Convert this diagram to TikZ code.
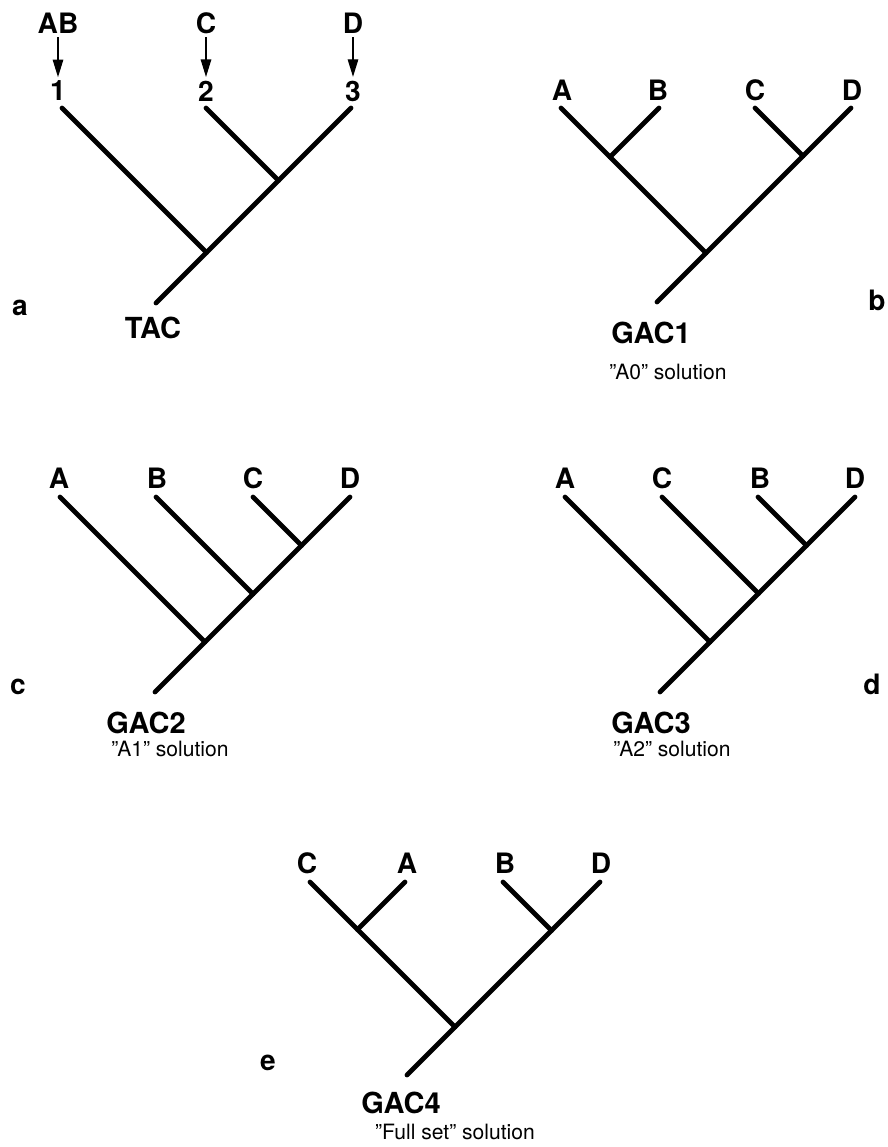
\documentclass[tikz,border=0pt]{standalone}
\usepackage{fontspec}
\setmainfont{TeX Gyre Heros}
\usetikzlibrary{arrows.meta}

\begin{document}
\begin{tikzpicture}[
        x=0.02cm, y=-0.02cm,
        branch/.style={line width=2.7pt, line cap=round},
        feed/.style={-{Triangle[length=10pt,width=6pt]}, line width=0.7pt, shorten <=2pt, shorten >=2pt},
        taxon/.style={inner sep=0pt, font=\fontsize{16}{19}\selectfont\bfseries},
        treename/.style={inner sep=0pt, font=\fontsize{16.5}{19}\selectfont\bfseries},
        soln/.style={inner sep=0pt, font=\fontsize{12}{14}\selectfont},
        panel/.style={inner sep=0pt, font=\fontsize{16}{19}\selectfont\bfseries}
    ]
        \useasboundingbox (0,0) rectangle (887,1147);

        % Panel a: TAC
        \node[taxon] (aAB) at (58,23) {AB};
        \node[taxon] (aC) at (206,23) {C};
        \node[taxon] (aD) at (353,23) {D};
        \node[taxon] (a1) at (58,91) {1};
        \node[taxon] (a2) at (206,91) {2};
        \node[taxon] (a3) at (353,91) {3};
        \coordinate (aL1) at (62,108);
        \coordinate (aL2) at (206,108);
        \coordinate (aL3) at (351,108);
        \coordinate (aJ23) at (278.5,180.5);
        \coordinate (aJ) at (206.5,252.5);
        \coordinate (aR) at (156,303);
        \node[treename] (TAC) at (153,328) {TAC};
        \node[panel] (pa) at (20,308) {a};

        % Panel b: GAC1
        \node[taxon] (bA) at (562,90) {A};
        \node[taxon] (bB) at (658,90) {B};
        \node[taxon] (bC) at (755,90) {C};
        \node[taxon] (bD) at (852,90) {D};
        \coordinate (bLA) at (561,108);
        \coordinate (bLB) at (659,108);
        \coordinate (bLC) at (755,108);
        \coordinate (bLD) at (851,108);
        \coordinate (bJAB) at (610,157);
        \coordinate (bJCD) at (803,156);
        \coordinate (bJ) at (706,253);
        \coordinate (bR) at (657,302);
        \node[treename] (GAC1) at (651,333) {GAC1};
        \node[soln] (sol1) at (668,372) {''A0'' solution};
        \node[panel] (pb) at (877,300) {b};

        % Panel c: GAC2
        \node[taxon] (cA) at (59,478) {A};
        \node[taxon] (cB) at (157,478) {B};
        \node[taxon] (cC) at (253,478) {C};
        \node[taxon] (cD) at (350,478) {D};
        \coordinate (cLA) at (60,497);
        \coordinate (cLB) at (156,497);
        \coordinate (cLC) at (253,497);
        \coordinate (cLD) at (350,497);
        \coordinate (cJCD) at (301.5,545.5);
        \coordinate (cJB) at (253,594);
        \coordinate (cJA) at (205,642);
        \coordinate (cR) at (155,692);
        \node[treename] (GAC2) at (146,723) {GAC2};
        \node[soln] (sol2) at (170,749) {''A1'' solution};
        \node[panel] (pc) at (18,687) {c};

        % Panel d: GAC3
        \node[taxon] (dA) at (565,478) {A};
        \node[taxon] (dC) at (662,478) {C};
        \node[taxon] (dB) at (760,478) {B};
        \node[taxon] (dD) at (855,478) {D};
        \coordinate (dLA) at (565,497);
        \coordinate (dLC) at (662,497);
        \coordinate (dLB) at (758,497);
        \coordinate (dLD) at (855,497);
        \coordinate (dJBD) at (806.5,545.5);
        \coordinate (dJC) at (758.5,593.5);
        \coordinate (dJA) at (710,642);
        \coordinate (dR) at (660,692);
        \node[treename] (GAC3) at (651,723) {GAC3};
        \node[soln] (sol3) at (672,749) {''A2'' solution};
        \node[panel] (pd) at (872,684) {d};

        % Panel e: GAC4
        \node[taxon] (eC) at (307,863) {C};
        \node[taxon] (eA) at (407,863) {A};
        \node[taxon] (eB) at (505,863) {B};
        \node[taxon] (eD) at (601,863) {D};
        \coordinate (eLC) at (310,882);
        \coordinate (eLA) at (405,882);
        \coordinate (eLB) at (503,882);
        \coordinate (eLD) at (600,882);
        \coordinate (eJCA) at (357.5,929.5);
        \coordinate (eJBD) at (551.5,930.5);
        \coordinate (eJ) at (455,1027);
        \coordinate (eR) at (407,1075);
        \node[treename] (GAC4) at (401,1103) {GAC4};
        \node[soln] (sol4) at (455,1132) {''Full set'' solution};
        \node[panel] (pe) at (268,1063) {e};

        % Arrows
        \draw[feed] (aAB) -- (a1);
        \draw[feed] (aC) -- (a2);
        \draw[feed] (aD) -- (a3);

        % Edges
        \draw[branch] (aL1) -- (aJ);
        \draw[branch] (aL2) -- (aJ23);
        \draw[branch] (aL3) -- (aJ23) -- (aJ) -- (aR);

        \draw[branch] (bLB) -- (bJAB);
        \draw[branch] (bLC) -- (bJCD);
        \draw[branch] (bLA) -- (bJAB) -- (bJ);
        \draw[branch] (bLD) -- (bJCD) -- (bJ) -- (bR);

        \draw[branch] (cLA) -- (cJA);
        \draw[branch] (cLB) -- (cJB);
        \draw[branch] (cLC) -- (cJCD);
        \draw[branch] (cLD) -- (cJCD) -- (cJB) -- (cJA) -- (cR);

        \draw[branch] (dLA) -- (dJA);
        \draw[branch] (dLC) -- (dJC);
        \draw[branch] (dLB) -- (dJBD);
        \draw[branch] (dLD) -- (dJBD) -- (dJC) -- (dJA) -- (dR);

        \draw[branch] (eLA) -- (eJCA);
        \draw[branch] (eLB) -- (eJBD);
        \draw[branch] (eLC) -- (eJCA) -- (eJ);
        \draw[branch] (eLD) -- (eJBD) -- (eJ) -- (eR);
    \end{tikzpicture}
\end{document}
